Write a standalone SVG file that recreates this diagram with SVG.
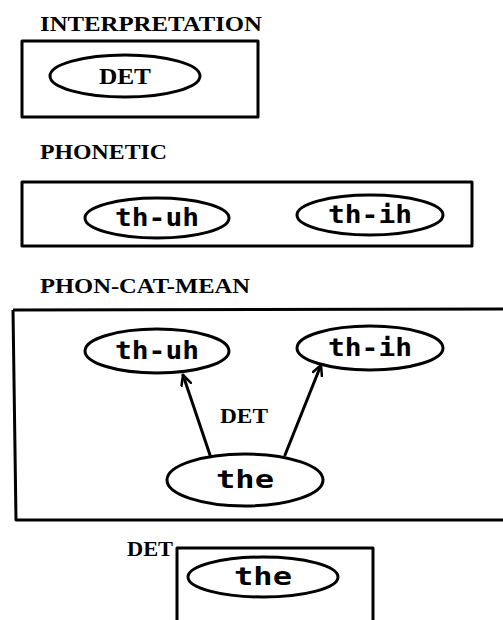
<svg xmlns="http://www.w3.org/2000/svg" width="503" height="620" viewBox="0 0 503 620">
<style>
.box{fill:none;stroke:#000;stroke-width:3;stroke-linejoin:round}
.ell{fill:#fff;stroke:#000;stroke-width:3}
.title{font-family:"Liberation Serif",serif;font-weight:bold;font-size:22px;fill:#000}
.lbl{font-family:"DejaVu Sans Mono","Liberation Mono",monospace;font-weight:bold;font-size:25px;fill:#000;text-anchor:middle}
.edge{fill:none;stroke:#000;stroke-width:3;stroke-linecap:round}
</style>
<defs>
<marker id="arr" viewBox="0 0 12 12" refX="11" refY="6" markerWidth="12" markerHeight="12" markerUnits="userSpaceOnUse" orient="auto">
<path d="M1,1 L11,6 L1,11" fill="none" stroke="#000" stroke-width="2.5" stroke-linecap="round"/>
</marker>
</defs>
<rect width="503" height="620" fill="#fff"/>
<g id="interpretation">
<text class="title" x="40" y="31" textLength="222" lengthAdjust="spacingAndGlyphs">INTERPRETATION</text>
<rect class="box" x="22" y="41" width="236" height="76"/>
<g id="interp-det">
<ellipse class="ell" cx="125" cy="76" rx="75" ry="21"/>
<text class="title" x="125" y="84" text-anchor="middle" style="font-size:24px" textLength="52" lengthAdjust="spacingAndGlyphs">DET</text>
</g>
</g>
<g id="phonetic">
<text class="title" x="40" y="159" textLength="127" lengthAdjust="spacingAndGlyphs">PHONETIC</text>
<rect class="box" x="22" y="182" width="450" height="64"/>
<g id="phon-thuh">
<ellipse class="ell" cx="157" cy="218" rx="72" ry="20"/>
<text class="lbl" x="157" y="226" textLength="84" lengthAdjust="spacingAndGlyphs">th-uh</text>
</g>
<g id="phon-thih">
<ellipse class="ell" cx="370" cy="215" rx="73" ry="20"/>
<text class="lbl" x="370" y="223" textLength="84" lengthAdjust="spacingAndGlyphs">th-ih</text>
</g>
</g>
<g id="phon-cat-mean">
<text class="title" x="40" y="293" textLength="210" lengthAdjust="spacingAndGlyphs">PHON-CAT-MEAN</text>
<path class="box" d="M13,310 L503,309 M13,310 L16,520 L503,520"/>
<g id="pcm-thuh">
<ellipse class="ell" cx="157" cy="351" rx="72" ry="22"/>
<text class="lbl" x="157" y="359" textLength="84" lengthAdjust="spacingAndGlyphs">th-uh</text>
</g>
<g id="pcm-thih">
<ellipse class="ell" cx="370" cy="348" rx="73" ry="22"/>
<text class="lbl" x="370" y="356" textLength="84" lengthAdjust="spacingAndGlyphs">th-ih</text>
</g>
<text id="pcm-det-label" class="title" x="220" y="423" textLength="48" lengthAdjust="spacingAndGlyphs">DET</text>
<g id="pcm-the">
<ellipse class="ell" cx="245" cy="480" rx="78" ry="26"/>
<text class="lbl" x="245" y="488" textLength="58" lengthAdjust="spacingAndGlyphs">the</text>
</g>
</g>
<g id="connectors">
<path class="edge" d="M210,455 L183,375" marker-end="url(#arr)"/>
<path class="edge" d="M285,455 L321,365" marker-end="url(#arr)"/>
</g>
<g id="det-the">
<text class="title" x="127" y="556" textLength="46" lengthAdjust="spacingAndGlyphs">DET</text>
<path class="box" d="M177,620 L177,548 L373,548 L373,620"/>
<g id="det-the-node">
<ellipse class="ell" cx="263" cy="577" rx="75" ry="20"/>
<text class="lbl" x="263" y="585" textLength="58" lengthAdjust="spacingAndGlyphs">the</text>
</g>
</g>
</svg>
